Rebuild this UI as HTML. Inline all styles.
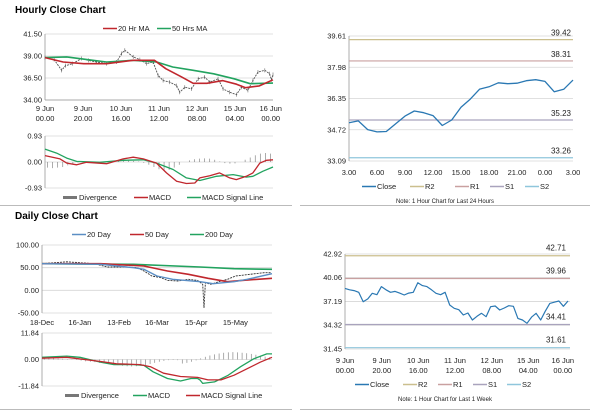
<!DOCTYPE html>
<html><head><meta charset="utf-8"><style>
body{margin:0;background:#fff}
svg{display:block;font-family:"Liberation Sans",sans-serif}
</style></head><body>
<svg id="s" width="600" height="413" viewBox="0 0 600 413">
<text x="15" y="13" font-size="10" font-weight="bold">Hourly Close Chart</text>
<text x="15" y="219" font-size="10" font-weight="bold">Daily Close Chart</text>
<line x1="0" y1="205.5" x2="292" y2="205.5" stroke="#bbb"/>
<line x1="300" y1="205.5" x2="590" y2="205.5" stroke="#bbb"/>
<line x1="0" y1="409.5" x2="292" y2="409.5" stroke="#bbb"/>
<line x1="300" y1="409.5" x2="590" y2="409.5" stroke="#bbb"/>
<g id="g"></g>
</svg>
<script>
// ---- Hourly price (t: 0..100 scale) ----
const h1CloseT=[0,4,7.3,9,12,16,19,22.6,27,31.4,33.6,35,38.7,41.6,44.5,47.4,49.6,51.8,54.7,57.7,59.1,61.3,64.2,67.2,70,72.3,75.9,78.1,81,84,86.1,89,91.2,93.4,96.4,98.5,99.3,100];
const h1Close=[38.82,38.6,37.37,37.9,38.13,38.71,38.5,38.32,38.13,38.32,39.28,39.66,38.9,38.59,38.13,38.32,36.79,36.22,36.03,35.64,34.88,35.45,35.26,36.41,36.6,36.03,36.41,35.26,34.88,34.61,35.45,35.1,36.22,37.18,37.37,36.98,36.3,36.9];
const h1Ma20T=[0,8,17,27,38.7,48,53,60,65,71,78,84,88,94,100];
const h1Ma20=[38.82,38.32,38.13,38.13,38.51,38.51,37.56,36.6,35.9,35.9,36.2,35.8,35.4,35.6,36.3];
const h1Ma50T=[0,9.5,21,27,38.7,49,56,65,74,83,90,100];
const h1Ma50=[38.82,38.9,38.51,38.32,38.51,38.32,37.75,37.37,36.98,36.41,35.85,35.92];
const h1Ticks=[34.00,36.50,39.00,41.50];
const h1XLab=[["9 Jun","00.00"],["9 Jun","20.00"],["10 Jun","16.00"],["11 Jun","12.00"],["12 Jun","08.00"],["15 Jun","04.00"],["16 Jun","00.00"]];
const h1XLabT=[0,16.7,33.3,50,66.7,83.3,99];
// ---- Hourly MACD ----
const h1MacdT=[0,6.6,9.5,13.9,18.2,27,34.3,38.7,43.1,48.9,53.3,57.7,62,65.7,67.9,72.3,76.6,81,83.9,88.3,91.2,94.2,97.1,100];
const h1Macd=[0.23,0.11,-0.04,-0.1,-0.01,-0.06,0.11,0.17,0.11,-0.04,-0.39,-0.69,-0.77,-0.75,-0.57,-0.49,-0.39,-0.57,-0.63,-0.51,-0.39,-0.04,0.06,0.08];
const h1SigT=[0,5.1,9.5,13.9,24.1,34.3,43.1,48.9,56.2,62,67.9,75.2,82.5,88.3,91.2,95.6,100];
const h1Sig=[0.46,0.32,0.14,0.02,-0.01,0.06,0.08,-0.04,-0.27,-0.57,-0.66,-0.51,-0.45,-0.54,-0.51,-0.33,-0.18];
const h1Div=[-0.2,-0.22,-0.2,-0.18,-0.12,-0.06,-0.02,0,0.01,0,-0.01,-0.02,0,0.03,0.05,0.06,0.05,0.04,0.02,-0.03,-0.1,-0.18,-0.26,-0.3,-0.28,-0.2,-0.1,0,0.06,0.1,0.12,0.13,0.12,0.08,0.02,-0.04,-0.06,-0.05,0,0.08,0.16,0.24,0.3,0.32,0.3];
const h1MTicks=[-0.93,0,0.93];
// ---- Hourly 24h ----
const h2Close=[35.08,35.18,34.73,34.61,34.63,35.03,35.43,35.70,35.61,35.46,34.94,35.23,35.89,36.32,36.84,36.96,37.17,37.12,37.15,37.28,37.33,37.24,36.70,36.83,37.31];
const h2Ticks=[33.09,34.72,36.35,37.98,39.61];
const h2XLab=["3.00","6.00","9.00","12.00","15.00","18.00","21.00","0.00","3.00"];
const h2Levels=[39.42,38.31,35.23,33.26];
// ---- Daily (t in days from 18-Dec) ----
const dCloseT=[0,19,40,45,50,65,73,78,82,84,91,96,104,112,119,123,124,125,129,137,142,148,155,163,170,175];
const dClose=[58.8,63,58.8,55.1,51.5,51.5,50,42.6,35.3,31.6,27.9,22,20.6,24.3,22,13.2,-38,16.9,13.2,20.6,24.3,31.6,33.8,36.8,39,39];
const d20T=[0,45,70,78,88,100,121,131,147,157,176];
const d20=[58.8,57.4,50,46.3,31.6,24.3,19.1,14.7,19.1,24.3,36.8];
const d50T=[0,45,78,96,112,127,142,153,176];
const d50=[58.8,58.8,53.7,42.6,35.3,26.5,19.1,22,26.5];
const d200T=[0,70,121,147,176];
const d200=[58.8,57.4,51.5,47.8,46.3];
const dTicks=[-50,0,50,100];
const dXLab=["18-Dec","16-Jan","13-Feb","16-Mar","15-Apr","15-May"];
const dXLabT=[0,29,59,88,118,148];
// ---- Daily MACD ----
const dMacdT=[0,19,29,45,55,70,78,85,96,106,114,119,121,123,132,142,152,162,172,176];
const dMacd=[1,1.5,1,-1.2,-2.3,-2.3,-2.6,-5.5,-8.5,-9.6,-8.5,-8.5,-9.2,-10.7,-10,-7.2,-3.2,0.3,2.5,2.5];
const dSigT=[0,19,45,57,75,83,93,106,119,127,137,147,157,167,176];
const dSig=[0.6,1,-0.9,-1.9,-2.3,-3.2,-6.1,-7.6,-8,-9.1,-9.1,-7,-4.1,-1.2,1];
const dDiv=[0.5,0.6,0.5,0.4,0.3,0.2,0.1,-0.2,-0.5,-0.8,-1,-1.2,-1.5,-1.8,-2,-2.3,-2.5,-2.8,-3,-3.1,-3,-2.8,-2.5,-2,-1.5,-1,-0.6,-0.3,-0.2,-0.3,-1.8,-1.5,-1,-0.4,0.5,1.2,1.8,2.3,2.7,3,3.2,3.3,3.2,3,2.8,2.5,2.1,1.7,1.3,1];
const dMTicks=[-11.84,0,11.84];
// ---- Weekly ----
const wClose=[38.77,38.6,38.5,38.3,37.16,37.5,38.17,38.0,38.98,38.6,38.29,38.4,38.2,37.97,38.2,38.29,39.46,39.1,38.98,38.6,38.17,38.0,38.29,36.76,36.36,36.2,35.55,35.8,34.95,35.4,35.76,35.35,36.56,36.64,36.16,36.4,36.68,36.6,35.15,34.95,34.55,35.3,35.76,34.95,36.0,36.96,37.1,37.24,36.6,37.24];
const wTicks=[31.45,34.32,37.19,40.06,42.92];
const wLevels=[42.71,39.96,34.41,31.61];

const RED="#c0272d",GREEN="#22a35f",BLUE="#3a7db6",GRAY="#999";
const G=document.getElementById('g');const NS="http://www.w3.org/2000/svg";
function el(tag,attrs,name){const e=document.createElementNS(NS,tag);for(const k in attrs)e.setAttribute(k,attrs[k]);


G.appendChild(e);return e;}
function txt(x,y,s,size,anchor,name){const t=el('text',{x:x,y:y,'font-size':size,'text-anchor':anchor||'start',fill:'#222'},name);t.textContent=s;return t;}
function lin(a,b,c,d){return v=>c+(v-a)/(b-a)*(d-c);}
function path(xs,ys,sx,sy,color,w,name,dash){let d="";for(let i=0;i<xs.length;i++)d+=(i?"L":"M")+sx(xs[i]).toFixed(1)+","+sy(ys[i]).toFixed(1);
const a={d:d,fill:'none',stroke:color,'stroke-width':w,'stroke-linejoin':'round'};if(dash)a['stroke-dasharray']=dash;el('path',a,name);}
function yaxis(x0,x1,ticks,sy,fmt,name){ticks.forEach(t=>{el('line',{x1:x0,x2:x1,y1:sy(t),y2:sy(t),stroke:'#d6d6d6','stroke-width':0.8},name+'-gridline');
txt(x0-3,sy(t)+2.5,fmt(t),7.5,'end',name+'-tick-label');});
el('line',{x1:x0,x2:x0,y1:sy(ticks[ticks.length-1]),y2:sy(ticks[0]),stroke:'#999','stroke-width':0.8},name+'-axis');}
function idx(n){return Array.from({length:n},(_,i)=>i);}
function legLine(x,y,color,label,name,w){el('line',{x1:x,x2:x+14,y1:y-2.5,y2:y-2.5,stroke:color,'stroke-width':w||1.5},name+'-swatch');txt(x+15,y,label,7.5,'start',name);}

// Panel 1
{const sx=lin(0,100,45,273),sy=lin(34,41.5,100,34);
yaxis(45,273,h1Ticks,sy,v=>v.toFixed(2),'hourly-price-y');
el('line',{x1:45,x2:273,y1:100,y2:100,stroke:'#999','stroke-width':0.8},'hourly-x-axis');
h1XLab.forEach((l,i)=>{txt(sx(h1XLabT[i]),111,l[0],7.5,'middle','hourly-x-label');txt(sx(h1XLabT[i]),121,l[1],7.5,'middle','hourly-x-label');});
h1Close.forEach((v,i)=>el('line',{x1:sx(h1CloseT[i]),x2:sx(h1CloseT[i]),y1:sy(v)-2,y2:sy(v)+2,stroke:'#666','stroke-width':0.6},'hourly-candle'));
path(h1CloseT,h1Close,sx,sy,'#555',0.9,'hourly-close-line','2,1');
path(h1Ma50T,h1Ma50,sx,sy,GREEN,1.6,'hourly-50hr-ma-line');
path(h1Ma20T,h1Ma20,sx,sy,RED,1.6,'hourly-20hr-ma-line');
legLine(103,31,RED,'20 Hr MA','legend-20hr-ma');legLine(157,31,GREEN,'50 Hrs MA','legend-50hrs-ma');
const my=lin(-0.93,0.93,188,136);
yaxis(45,273,h1MTicks,my,v=>v.toFixed(2),'hourly-macd-y');
const bw=228/h1Div.length;h1Div.forEach((v,i)=>{const x=45+i*bw+bw/2;el('line',{x1:x,x2:x,y1:my(0),y2:my(v),stroke:'#888','stroke-width':0.7},'hourly-divergence-bar');});
path(h1SigT,h1Sig,sx,my,GREEN,1.3,'hourly-macd-signal-line');
path(h1MacdT,h1Macd,sx,my,RED,1.3,'hourly-macd-line');
el('rect',{x:63,y:196,width:14,height:3,fill:'#777'},'legend-divergence-swatch');txt(79,200,'Divergence',7.5,'start','legend-divergence');
legLine(134,200,RED,'MACD','legend-macd');legLine(187,200,GREEN,'MACD Signal Line','legend-macd-signal');}

// Panel 2
{const sx=lin(0,24,349,573),sy=lin(33.09,39.61,161,36);
yaxis(349,573,h2Ticks,sy,v=>v.toFixed(2),'h24-y');
h2XLab.forEach((l,i)=>txt(sx(i*3),175,l,7.5,'middle','h24-x-label'));
const lc=["#cbbf8e","#c9a0a0","#a9a3bd","#8fc6dc"],ln=["r2","r1","s1","s2"];
h2Levels.forEach((v,i)=>{el('line',{x1:349,x2:573,y1:sy(v),y2:sy(v),stroke:lc[i],'stroke-width':1.2},'h24-'+ln[i]+'-line');txt(571,sy(v)-4,v.toFixed(2),8,'end','h24-'+ln[i]+'-label');});
path(idx(h2Close.length),h2Close,sx,sy,'#2a78b3',1.3,'h24-close-line');
legLine(362,189,'#2a78b3','Close','legend-close');legLine(410,189,lc[0],'R2','legend-r2');legLine(455,189,lc[1],'R1','legend-r1');legLine(490,189,lc[2],'S1','legend-s1');legLine(525,189,lc[3],'S2','legend-s2');
txt(445,203,'Note: 1 Hour Chart for Last 24 Hours',6,'middle','h24-note');}

// Panel 3
{const sx=lin(0,176,42,272),sy=lin(-50,100,313,245);
yaxis(42,272,dTicks,sy,v=>v.toFixed(2),'daily-y');
dXLab.forEach((l,i)=>txt(sx(dXLabT[i]),325,l,7.5,'middle','daily-x-label'));
path(dCloseT,dClose,sx,sy,'#333',0.9,'daily-close-line','2,1');
path(d200T,d200,sx,sy,GREEN,1.6,'daily-200-day-line');
path(d50T,d50,sx,sy,RED,1.6,'daily-50-day-line');
path(d20T,d20,sx,sy,'#5b8ec4',1.4,'daily-20-day-line');
legLine(72,237,'#5b8ec4','20 Day','legend-20-day');legLine(130,237,RED,'50 Day','legend-50-day');legLine(190,237,GREEN,'200 Day','legend-200-day');
const my=lin(-11.84,11.84,386,333);
yaxis(42,272,dMTicks,my,v=>v.toFixed(2),'daily-macd-y');
const bw=230/dDiv.length;dDiv.forEach((v,i)=>{const x=42+i*bw+bw/2;el('line',{x1:x,x2:x,y1:my(0),y2:my(v),stroke:'#888','stroke-width':0.7},'daily-divergence-bar');});
path(dMacdT,dMacd,sx,my,GREEN,1.3,'daily-macd-line');
path(dSigT,dSig,sx,my,RED,1.3,'daily-macd-signal-line');
el('rect',{x:65,y:394,width:14,height:3,fill:'#777'},'legend-divergence-swatch');txt(81,398,'Divergence',7.5,'start','legend-divergence');
legLine(133,398,GREEN,'MACD','legend-macd');legLine(186,398,RED,'MACD Signal Line','legend-macd-signal');}

// Panel 4
{const sy=lin(31.45,42.92,349,254),sx=lin(0,wClose.length-1,345,568);
yaxis(345,570,wTicks,sy,v=>v.toFixed(2),'weekly-y');
h1XLab.forEach((l,i)=>{const x=345+h1XLabT[i]/100*220;txt(x,363,l[0],7.5,'middle','weekly-x-label');txt(x,373,l[1],7.5,'middle','weekly-x-label');});
const lc=["#cbbf8e","#c9a0a0","#a9a3bd","#8fc6dc"],ln=["r2","r1","s1","s2"];
wLevels.forEach((v,i)=>{el('line',{x1:345,x2:570,y1:sy(v),y2:sy(v),stroke:lc[i],'stroke-width':1.2},'weekly-'+ln[i]+'-line');txt(566,sy(v)-5,v.toFixed(2),8,'end','weekly-'+ln[i]+'-label');});
path(idx(wClose.length),wClose,sx,sy,'#2a78b3',1.2,'weekly-close-line');
legLine(355,387,'#2a78b3','Close','legend-close');legLine(403,387,lc[0],'R2','legend-r2');legLine(438,387,lc[1],'R1','legend-r1');legLine(473,387,lc[2],'S1','legend-s1');legLine(507,387,lc[3],'S2','legend-s2');
txt(445,401,'Note: 1 Hour Chart for Last 1 Week',6,'middle','weekly-note');}
</script>
</body></html>
